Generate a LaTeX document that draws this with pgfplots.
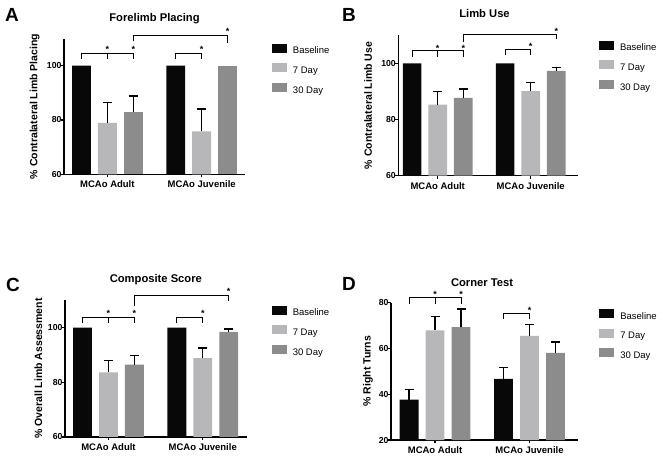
\documentclass[border=0pt]{standalone}
\usepackage{fontspec}
\setmainfont{Liberation Sans}
\usepackage{pgfplots}
\pgfplotsset{compat=1.18}
\definecolor{cBase}{RGB}{8,8,8}
\definecolor{cSeven}{RGB}{183,183,185}
\definecolor{cThirty}{RGB}{140,140,140}
\tikzset{
  bracket/.style={line width=0.9pt, black},
  star/.style={font=\fontsize{9}{10}\selectfont\bfseries, inner sep=0pt, anchor=north, yshift=1.5pt},
}
\pgfplotsset{
  panel/.style={
    scale only axis,
    axis lines=left,
    axis line style={-, line width=1.5pt},
    enlargelimits=false,
    clip mode=individual,
    xtick={0,1},
    xticklabels={MCAo Adult, MCAo Juvenile},
    tick style={line width=1.2pt, black},
    major tick length=3pt,
    tick align=outside,
    /pgf/number format/assume math mode=true,
    xticklabel style={font=\fontsize{9.5}{11}\selectfont\bfseries},
    yticklabel style={font=\fontsize{8.7}{10}\selectfont\bfseries, xshift=4pt},
    ylabel style={font=\fontsize{10.5}{12}\selectfont\bfseries, anchor=center},
    title style={font=\fontsize{11.2}{13}\selectfont\bfseries, anchor=base},
    legend style={draw=none, fill=none, inner sep=0pt, outer sep=0pt, anchor=north west,
      row sep=7.4pt, column sep=6pt,
      nodes={inner sep=0pt, text height=7pt, text depth=2pt, font=\fontsize{9.5}{11}\selectfont}},
    legend cell align=left,
    legend image code/.code={\draw[##1,draw=none] (0pt,-1.1pt) rectangle (15pt,7.9pt);},
  },
  bars/.style={ybar, bar width=0.2, bar shift=0pt, draw=none, mark=none},
  errb/.style={error bars/.cd, y dir=plus, y explicit,
    error bar style={line width=1.4pt, black},
    error mark options={rotate=90, mark size=4.5pt, line width=1.4pt, black}},
}
\begin{document}
\begin{tikzpicture}
\useasboundingbox (0,0) rectangle (663pt,-460pt);
% ---------------- A
\begin{axis}[panel, at={(64pt,-174.3pt)}, anchor=south west,
  width=181pt, height=135.8pt, xmin=-0.46, xmax=1.46, ymin=60, ymax=110,
  ytick={60,80,100},
  ylabel={\% Contralateral Limb Placing},
  ylabel style={at={(axis description cs:-0.162,0.5)}},
  title={Forelimb Placing},
  title style={at={(axis description cs:0.5,1)}, yshift=11.2pt},
  legend style={at={(axis description cs:1.149,0.963)}}]
\addplot[bars, fill=cBase] coordinates {(-0.275,100) (0.725,100)};
\addplot[bars, fill=cSeven, errb] coordinates {(0,78.9) +- (0,7.5) (1,75.8) +- (0,8.3)};
\addplot[bars, fill=cThirty, errb] coordinates {(0.275,83.1) +- (0,5.8)};
\addplot[bars, fill=cThirty, forget plot] coordinates {(1.275,100)};
\legend{Baseline,7 Day,30 Day}
\draw[bracket] (axis cs:-0.275,102.5) -- (axis cs:-0.275,104.6) -- (axis cs:0.275,104.6) -- (axis cs:0.275,102.5);
\draw[bracket] (axis cs:0,104.6) -- (axis cs:0,102.5);
\draw[bracket] (axis cs:0.725,102.5) -- (axis cs:0.725,104.6) -- (axis cs:1,104.6) -- (axis cs:1,102.5);
\draw[bracket] (axis cs:0.275,108.9) -- (axis cs:0.275,111.1) -- (axis cs:1.275,111.1) -- (axis cs:1.275,108.3);
\node[star] at (axis cs:0,106.8) {*};
\node[star] at (axis cs:0.275,106.8) {*};
\node[star] at (axis cs:1,106.8) {*};
\node[star] at (axis cs:1.275,113.3) {*};
\end{axis}
% ---------------- B
\begin{axis}[panel, at={(398.3pt,-175.7pt)}, anchor=south west,
  width=180pt, height=140.5pt, xmin=-0.424, xmax=1.512, ymin=60, ymax=110,
  ytick={60,80,100},
  ylabel={\% Contralateral Limb Use},
  ylabel style={at={(axis description cs:-0.168,0.5)}},
  title={Limb Use},
  title style={at={(axis description cs:0.479,1)}, yshift=11.9pt},
  legend style={at={(axis description cs:1.115,0.962)}}]
\addplot[bars, fill=cBase] coordinates {(-0.275,100) (0.725,100)};
\addplot[bars, fill=cSeven, errb] coordinates {(0,85.3) +- (0,4.7) (1,90.1) +- (0,3.0)};
\addplot[bars, fill=cThirty, errb] coordinates {(0.275,87.7) +- (0,3.2) (1.275,97.3) +- (0,1.3)};
\legend{Baseline,7 Day,30 Day}
\draw[bracket] (axis cs:-0.275,102.4) -- (axis cs:-0.275,104.4) -- (axis cs:0.275,104.4) -- (axis cs:0.275,102.4);
\draw[bracket] (axis cs:0,104.4) -- (axis cs:0,102.4);
\draw[bracket] (axis cs:0.725,103) -- (axis cs:0.725,105) -- (axis cs:1,105) -- (axis cs:1,103);
\draw[bracket] (axis cs:0.275,107.7) -- (axis cs:0.275,110.3) -- (axis cs:1.275,110.3) -- (axis cs:1.275,108.5);
\node[star] at (axis cs:0,106.1) {*};
\node[star] at (axis cs:0.275,106.1) {*};
\node[star] at (axis cs:1,106.5) {*};
\node[star] at (axis cs:1.275,112) {*};
\end{axis}
% ---------------- C
\begin{axis}[panel, at={(65pt,-436.9pt)}, anchor=south west,
  width=181.7pt, height=136.7pt, xmin=-0.461, xmax=1.466, ymin=60, ymax=110,
  ytick={60,80,100},
  ylabel={\% Overall Limb Assessment},
  ylabel style={at={(axis description cs:-0.147,0.5)}},
  title={Composite Score},
  title style={at={(axis description cs:0.5,1)}, yshift=11.9pt},
  legend style={at={(axis description cs:1.138,0.961)}}]
\addplot[bars, fill=cBase] coordinates {(-0.275,100) (0.725,100)};
\addplot[bars, fill=cSeven, errb] coordinates {(0,83.6) +- (0,4.4) (1,88.8) +- (0,3.7)};
\addplot[bars, fill=cThirty, errb] coordinates {(0.275,86.4) +- (0,3.4) (1.275,98.4) +- (0,1.0)};
\legend{Baseline,7 Day,30 Day}
\draw[bracket] (axis cs:-0.275,101.6) -- (axis cs:-0.275,103.6) -- (axis cs:0.275,103.6) -- (axis cs:0.275,101.6);
\draw[bracket] (axis cs:0,103.6) -- (axis cs:0,101.6);
\draw[bracket] (axis cs:0.725,101.6) -- (axis cs:0.725,103.6) -- (axis cs:1,103.6) -- (axis cs:1,101.6);
\draw[bracket] (axis cs:0.275,107.7) -- (axis cs:0.275,111.7) -- (axis cs:1.275,111.7) -- (axis cs:1.275,109.6);
\node[star] at (axis cs:0,105.7) {*};
\node[star] at (axis cs:0.275,105.7) {*};
\node[star] at (axis cs:1,105.7) {*};
\node[star] at (axis cs:1.275,113.8) {*};
\end{axis}
% ---------------- D
\begin{axis}[panel, at={(391pt,-440pt)}, anchor=south west,
  width=187pt, height=137.3pt, xmin=-0.466, xmax=1.513, ymin=20, ymax=80,
  ytick={20,40,60,80},
  ylabel={\% Right Turns},
  ylabel style={at={(axis description cs:-0.123,0.5)}},
  title={Corner Test},
  title style={at={(axis description cs:0.487,1)}, yshift=10.7pt},
  legend style={at={(axis description cs:1.114,0.956)}}]
\addplot[bars, fill=cBase, errb] coordinates {(-0.275,37.6) +- (0,4.6) (0.725,46.7) +- (0,4.9)};
\addplot[bars, fill=cSeven, errb] coordinates {(0,67.9) +- (0,6.2) (1,65.5) +- (0,5.0)};
\addplot[bars, fill=cThirty, errb] coordinates {(0.275,69.3) +- (0,7.9) (1.275,58.1) +- (0,4.7)};
\legend{Baseline,7 Day,30 Day}
\draw[bracket] (axis cs:-0.275,79.6) -- (axis cs:-0.275,82.1) -- (axis cs:0.275,82.1) -- (axis cs:0.275,79.6);
\draw[bracket] (axis cs:0,82.1) -- (axis cs:0,79.6);
\draw[bracket] (axis cs:0.725,73) -- (axis cs:0.725,75.4) -- (axis cs:1,75.4) -- (axis cs:1,73);
\node[star] at (axis cs:0,84.3) {*};
\node[star] at (axis cs:0.275,84.3) {*};
\node[star] at (axis cs:1,77.6) {*};
\end{axis}
% panel letters
\node[anchor=base west, inner sep=0pt, font=\fontsize{19}{20}\selectfont\bfseries] at (5pt,-21.7pt) {A};
\node[anchor=base west, inner sep=0pt, font=\fontsize{19}{20}\selectfont\bfseries] at (342pt,-21.7pt) {B};
\node[anchor=base west, inner sep=0pt, font=\fontsize{19}{20}\selectfont\bfseries] at (6pt,-291.7pt) {C};
\node[anchor=base west, inner sep=0pt, font=\fontsize{19}{20}\selectfont\bfseries] at (342pt,-290pt) {D};
\end{tikzpicture}
\end{document}
